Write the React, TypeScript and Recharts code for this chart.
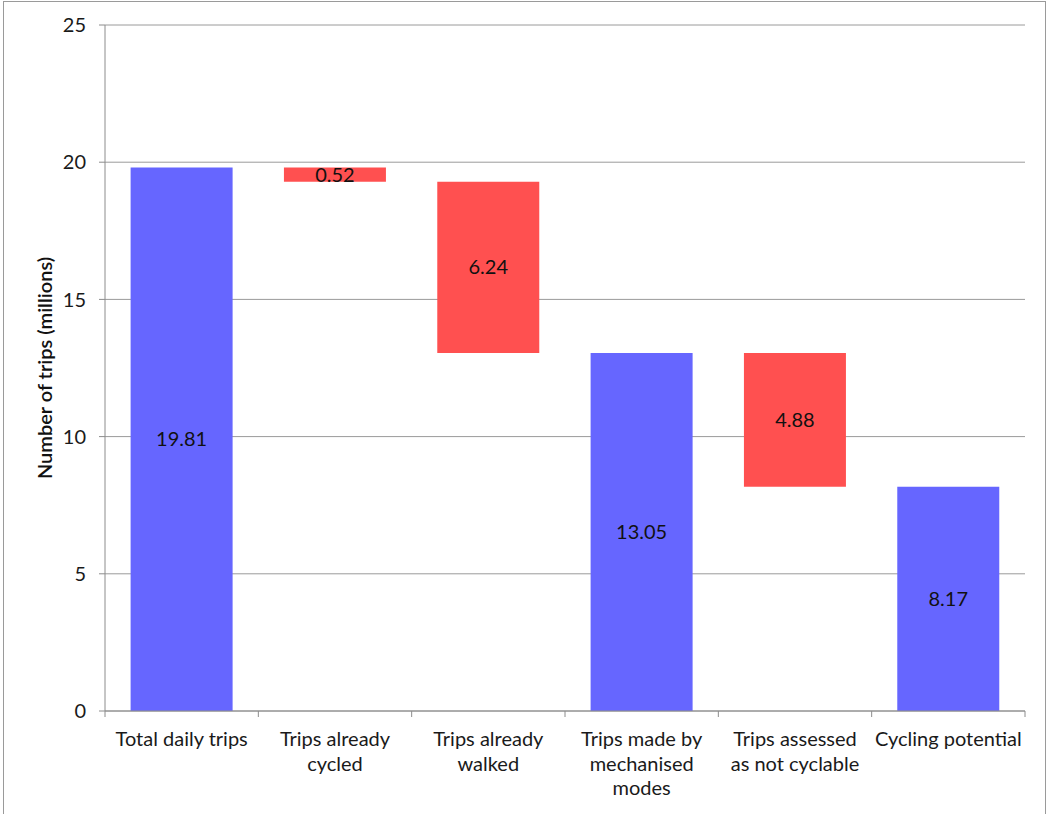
import React from "react";
import {
  Bar,
  BarChart,
  CartesianGrid,
  Cell,
  LabelList,
  XAxis,
  YAxis,
} from "recharts";

const categories = [
  "Total daily trips",
  "Trips already\ncycled",
  "Trips already\nwalked",
  "Trips made by\nmechanised\nmodes",
  "Trips assessed\nas not cyclable",
  "Cycling potential",
];
const baseValues = [0, 19.29, 13.05, 0, 8.17, 0];
const barValues = [19.81, 0.52, 6.24, 13.05, 4.88, 8.17];
const barKinds = ["total", "decrease", "decrease", "total", "decrease", "total"];
const yTicks = [0, 5, 10, 15, 20, 25];

const W = 1049;
const H = 814;
const LEFT = 105;
const RIGHT = 24;
const TOP = 25;
const BOTTOM = 103;
const BAND = (W - LEFT - RIGHT) / categories.length;
const FONT = "Lato, 'Open Sans', sans-serif";
const FS = 20;

const colors: Record<string, string> = {
  total: "#6666FF",
  decrease: "#FF5050",
};

const data = categories.map((name, i) => ({
  name,
  base: baseValues[i],
  value: barValues[i],
  kind: barKinds[i],
}));

const XTick = (props: any) => {
  const { x, payload, index } = props;
  const axisY = H - BOTTOM;
  const lines = String(payload.value).split("\n");
  return (
    <g>
      <line x1={x - BAND / 2} x2={x - BAND / 2} y1={axisY} y2={axisY + 6} stroke="#8c8c8c" />
      {index === categories.length - 1 && (
        <line x1={x + BAND / 2} x2={x + BAND / 2} y1={axisY} y2={axisY + 6} stroke="#8c8c8c" />
      )}
      <text textAnchor="middle" fontSize={FS} fontFamily={FONT} fill="#1a1a1a">
        {lines.map((l, i) => (
          <tspan key={i} x={x} y={axisY + 35 + i * 24.5}>
            {l}
          </tspan>
        ))}
      </text>
    </g>
  );
};

export default function App() {
  return (
    <div style={{ position: "absolute", left: 0, top: 0, width: W, height: H, overflow: "hidden", background: "#fff" }}>
      <div
        style={{
          position: "absolute",
          left: 3,
          top: 1,
          width: 1041,
          height: 840,
          border: "1px solid #9a9a9a",
        }}
      />
      <div style={{ position: "absolute", left: 0, top: 0 }}>
        <BarChart
          width={W}
          height={H}
          data={data}
          margin={{ top: TOP, right: RIGHT, left: 0, bottom: 0 }}
          barCategoryGap="16.7%"
        >
          <CartesianGrid horizontal vertical={false} stroke="#9a9a9a" />
          <XAxis
            dataKey="name"
            height={BOTTOM}
            interval={0}
            tickLine={false}
            axisLine={{ stroke: "#8c8c8c" }}
            tick={<XTick />}
          />
          <YAxis
            width={LEFT}
            domain={[0, 25]}
            ticks={yTicks}
            tickSize={6}
            tickMargin={13}
            tickLine={{ stroke: "#8c8c8c" }}
            axisLine={{ stroke: "#8c8c8c" }}
            tick={{ fontSize: FS, fontFamily: FONT, fill: "#1a1a1a" }}
            label={{
              value: "Number of trips (millions)",
              angle: -90,
              position: "center",
              dx: -8,
              fontSize: FS,
              fontFamily: FONT,
              fontWeight: 600,
              fill: "#111",
            }}
          />
          <Bar dataKey="base" stackId="w" fill="transparent" isAnimationActive={false} />
          <Bar dataKey="value" stackId="w" isAnimationActive={false}>
            {data.map((d, i) => (
              <Cell key={i} fill={colors[d.kind]} />
            ))}
            <LabelList
              dataKey="value"
              position="center"
              fontSize={FS}
              fontFamily={FONT}
              fill="#111"
              formatter={(v: any) => Number(v).toFixed(2)}
            />
          </Bar>
        </BarChart>
      </div>
    </div>
  );
}
